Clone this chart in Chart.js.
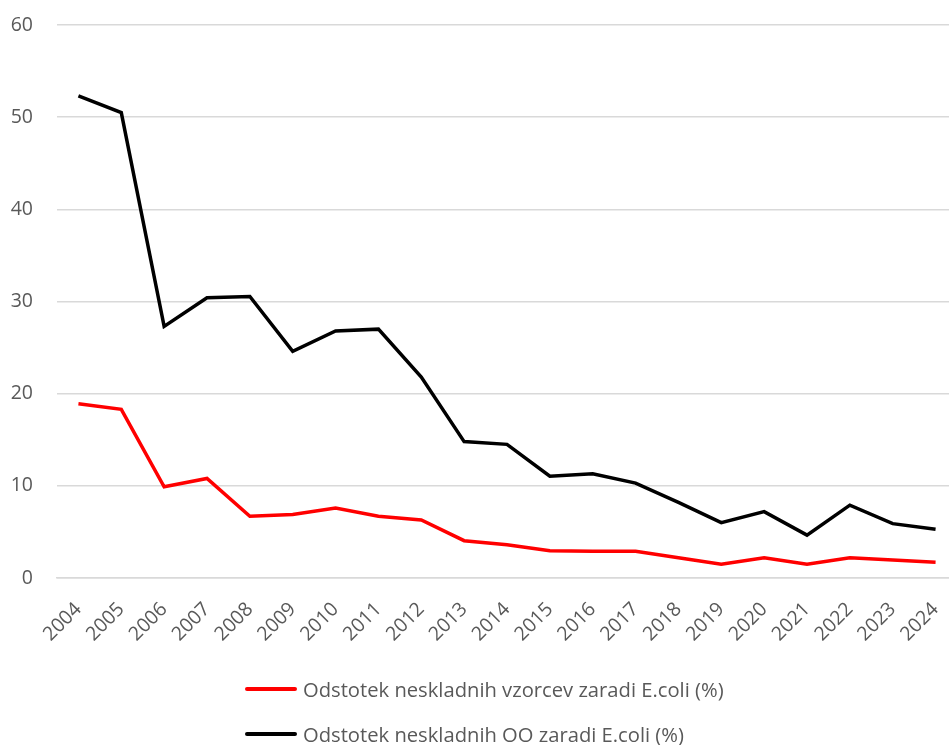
<!DOCTYPE html>
<html>
<head>
<meta charset="utf-8">
<script src="https://cdn.jsdelivr.net/npm/chart.js@4"></script>
<style>
  body { margin: 0; background: #fff; }
  #wrap { position: relative; width: 949px; height: 745px; overflow: hidden; }
  #legend { position: absolute; left: 245px; top: 666px; font-family: "Open Sans", sans-serif; font-size: 20.2px; color: #595959; }
  .item { display: flex; align-items: center; height: 45px; }
  .swatch { width: 52px; height: 4px; margin-right: 6px; border-radius: 2px; }
</style>
</head>
<body>
<div id="wrap">
  <!-- plot area runs a little past the right edge, like the original -->
  <canvas id="myChart" width="957" height="745"></canvas>
  <div id="legend"></div>
</div>
<script>
// years on the x axis
const years = ['2004','2005','2006','2007','2008','2009','2010','2011','2012','2013','2014',
               '2015','2016','2017','2018','2019','2020','2021','2022','2023','2024'];
// red line - share of non-compliant samples
const vzorci = [18.9, 18.3, 9.9, 10.8, 6.7, 6.9, 7.6, 6.7, 6.3, 4.05, 3.6,
                2.95, 2.9, 2.9, 2.2, 1.5, 2.2, 1.5, 2.2, 1.95, 1.7];
// black line - share of non-compliant OO
const oo = [52.3, 50.5, 27.3, 30.4, 30.55, 24.6, 26.8, 27.0, 21.8, 14.8, 14.5,
            11.05, 11.3, 10.3, 8.2, 6.0, 7.2, 4.65, 7.9, 5.9, 5.3];
const labelVzorci = 'Odstotek neskladnih vzorcev zaradi E.coli (%)';
const labelOO = 'Odstotek neskladnih OO zaradi E.coli (%)';
const yTicks = [0, 10, 20, 30, 40, 50, 60];

const txt = '#595959';
const font = "'Open Sans', sans-serif";
const clear = 'rgba(0,0,0,0)';

let ctx = document.getElementById('myChart').getContext('2d');
let chart = new Chart(ctx, {
  type: 'line',
  data: {
    labels: years,
    datasets: [
      { label: labelVzorci, data: vzorci, borderColor: '#ff0000', borderWidth: 3.5, pointRadius: 0, tension: 0 },
      { label: labelOO, data: oo, borderColor: '#000000', borderWidth: 3.5, pointRadius: 0, tension: 0 }
    ]
  },
  options: {
    responsive: false,
    animation: false,
    layout: { padding: { top: 25, right: 0, left: 0, bottom: 0 } },
    plugins: { legend: { display: false }, tooltip: { enabled: false } },
    scales: {
      x: {
        offset: true,
        // hidden tick marks give the gap under the axis without extra side padding
        grid: { display: true, drawOnChartArea: false, color: clear, drawTicks: true, tickLength: 18, tickColor: clear },
        border: { display: true, color: '#d9d9d9', width: 1.5 },
        ticks: { color: txt, font: { family: font, size: 19.5 }, maxRotation: 45, minRotation: 45, padding: 2, autoSkip: false },
        afterFit: function(s) { s.height = 167; }
      },
      y: {
        min: 0, max: 60,
        afterBuildTicks: function(s) { s.ticks = yTicks.map(v => ({ value: v })); },
        grid: { color: '#d9d9d9', lineWidth: 1.5, drawTicks: true, tickLength: 22, tickColor: clear },
        border: { display: false },
        ticks: { color: txt, font: { family: font, size: 19.5 }, padding: 2 },
        afterFit: function(s) { s.width = 57; }
      }
    }
  }
});

// legend below the chart, two rows, left aligned
let leg = document.getElementById('legend');
chart.data.datasets.forEach(function(ds) {
  let row = document.createElement('div');
  row.className = 'item';
  row.innerHTML = '<span class="swatch" style="background:' + ds.borderColor + '"></span><span>' + ds.label + '</span>';
  leg.appendChild(row);
});
</script>
</body>
</html>
